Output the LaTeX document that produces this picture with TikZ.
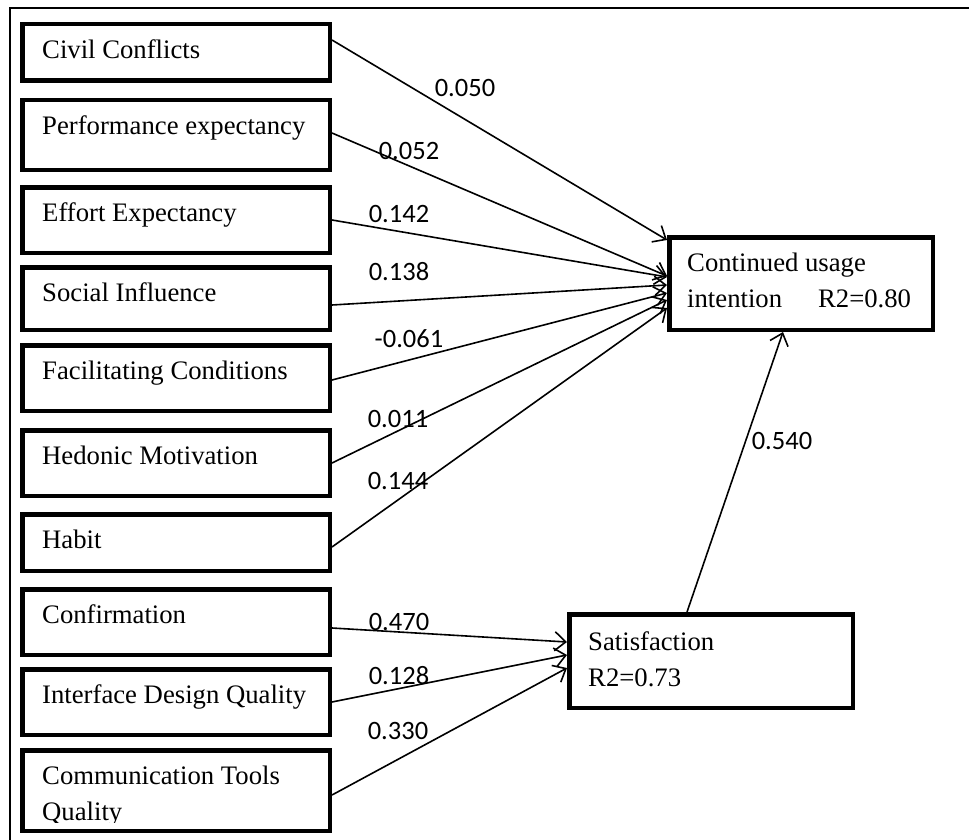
\documentclass[tikz,border=0pt]{standalone}
\usepackage{fontspec}
\setmainfont{Liberation Serif}
\newfontfamily\numfont{Carlito}
\usetikzlibrary{arrows.meta,calc}
\begin{document}
\begin{tikzpicture}[x=1pt,y=-1pt,
  box/.style={draw,line width=4.5pt,rectangle,inner sep=0pt},
  lbox/.style={box,minimum width=307.5pt},
  lbl/.style={anchor=base west,inner sep=0pt,font=\fontsize{26.7}{35.5}\selectfont,align=left},
  coef/.style={inner sep=0pt,font=\numfont\fontsize{26.5}{30}\selectfont},
  arr/.style={line width=1.6pt,-{Straight Barb[length=11pt,width=19pt,line width=1.6pt]}}]
\useasboundingbox (0,0) rectangle (969,840);
% frame
\coordinate (f1) at (10,8);
\coordinate (f2) at (969,8);
\coordinate (f3) at (10,840);
\draw[line width=2pt] (f2) -- (f1) -- (f3);
% left boxes
\node[lbox,minimum height=56.5pt] (b1) at (176,52.5) {};
\node[lbox,minimum height=69.5pt] (b2) at (176,135) {};
\node[lbox,minimum height=65.5pt] (b3) at (176,220) {};
\node[lbox,minimum height=62.5pt] (b4) at (176,298.5) {};
\node[lbox,minimum height=65.5pt] (b5) at (176,378) {};
\node[lbox,minimum height=65.5pt] (b6) at (176,463) {};
\node[lbox,minimum height=56.5pt] (b7) at (176,542.5) {};
\node[lbox,minimum height=65.5pt] (b8) at (176,622) {};
\node[lbox,minimum height=65.5pt] (b9) at (176,702) {};
\node[lbox,minimum height=80.5pt] (b10) at (176,790.5) {};
\node[lbl] (t1) at (42,58.5) {Civil Conflicts};
\node[lbl] (t2) at (42,134.5) {Performance expectancy};
\node[lbl] (t3) at (42,221.5) {Effort Expectancy};
\node[lbl] (t4) at (42,301.5) {Social Influence};
\node[lbl] (t5) at (42,379.5) {Facilitating Conditions};
\node[lbl] (t6) at (42,464.5) {Hedonic Motivation};
\node[lbl] (t7) at (42,548.5) {Habit};
\node[lbl] (t8) at (42,623.5) {Confirmation};
\node[lbl] (t9) at (42,703.5) {Interface Design Quality};
\begin{scope}
\clip (20,740) rectangle (330,822);
\node[lbl] (t10) at (42,820) {Communication Tools\\Quality};
\end{scope}
% right boxes
\node[box,minimum width=263.5pt,minimum height=92.5pt] (cui) at (801,283.5) {};
\node[lbl] (tc) at (687,307) {Continued usage\\intention\hspace{36pt}R2=0.80};
\node[box,minimum width=283.5pt,minimum height=93.5pt] (sat) at (711,661) {};
\node[lbl] (ts) at (588,686) {Satisfaction\\R2=0.73};
% arrows
\draw[arr] ([yshift=12.5pt]b1.east) -- ([yshift=43.5pt]cui.west);
\draw[arr] ([yshift=2pt]b2.east) -- ([yshift=7.5pt]cui.west);
\draw[arr] (b3.east) -- ([yshift=6.5pt]cui.west);
\draw[arr] ([yshift=-6.5pt]b4.east) -- ([yshift=-1.5pt]cui.west);
\draw[arr] ([yshift=-2pt]b5.east) -- ([yshift=-9.5pt]cui.west);
\draw[arr] (b6.east) -- ([yshift=-16.5pt]cui.west);
\draw[arr] ([yshift=-4.5pt]b7.east) -- ([yshift=-24.5pt]cui.west);
\draw[arr] ([yshift=-6pt]b8.east) -- ([yshift=19pt]sat.west);
\draw[arr] (b9.east) -- ([yshift=6pt]sat.west);
\draw[arr] ([yshift=-4.5pt]b10.east) -- ([yshift=-7pt]sat.west);
\draw[arr] ([xshift=-24pt]sat.north) -- ([xshift=-18pt]cui.south);
% coefficients
\node[coef] (c1) at (465,88) {0.050};
\node[coef] (c2) at (409,151) {0.052};
\node[coef] (c3) at (399,214) {0.142};
\node[coef] (c4) at (399,272) {0.138};
\node[coef] (c5) at (409,339) {-0.061};
\node[coef] (c6) at (398,419) {0.011};
\node[coef] (c7) at (398,481) {0.144};
\node[coef] (c8) at (399,622) {0.470};
\node[coef] (c9) at (399,676) {0.128};
\node[coef] (c10) at (398,731) {0.330};
\node[coef] (c11) at (782,441) {0.540};
\end{tikzpicture}
\end{document}
